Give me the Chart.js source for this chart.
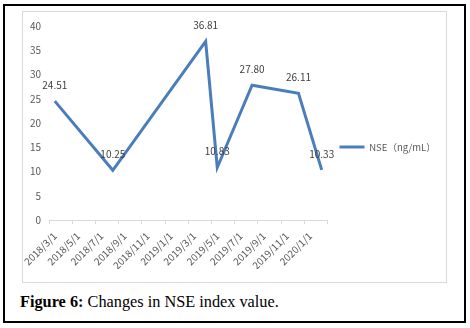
<!DOCTYPE html>
<html>
<head>
<meta charset="utf-8">
<script src="https://cdn.jsdelivr.net/npm/chart.js@4.4.1/dist/chart.umd.min.js"></script>
<style>
  html, body { margin: 0; padding: 0; background: #fff; }
  body { width: 470px; height: 328px; position: relative; overflow: hidden; }
  #outer { position: absolute; left: 3px; top: 4px; width: 463px; height: 319px; border: 2px solid #000; box-sizing: border-box; }
  #frame { position: absolute; left: 22px; top: 11px; width: 425px; height: 272px; border: 1px solid #d9d9d9; box-sizing: border-box; }
  #c { position: absolute; left: 23px; top: 12px; }
  #cap { position: absolute; left: 20px; top: 292px; font-family: "Liberation Serif", "Times New Roman", serif; font-size: 16.3px; color: #000; white-space: nowrap; }
  #cap b { font-weight: bold; }
</style>
</head>
<body>
<div id="outer"></div>
<div id="frame"></div>
<canvas id="c" width="423" height="270"></canvas>
<div id="cap"><b>Figure 6:</b> Changes in NSE index value.</div>
<script>
// Data
const dates = ['2018/3', '2018/8', '2019/4', '2019/5', '2019/8', '2019/12', '2020/2'];
const nseValues = [24.51, 10.25, 36.81, 10.83, 27.80, 26.11, 10.33];
const tickLabels = ['2018/3/1','2018/5/1','2018/7/1','2018/9/1','2018/11/1','2019/1/1','2019/3/1','2019/5/1','2019/7/1','2019/9/1','2019/11/1','2020/1/1'];
const seriesName = 'NSE（ng/mL）';
const startYear = 2018, startMonth = 3;

// month index (centered in month) from date
function monthPos(d) {
  const [y, m] = d.split('/').map(Number);
  return (y - startYear) * 12 + (m - startMonth) + 0.5;
}
const points = dates.map((d, i) => ({ x: monthPos(d), y: nseValues[i] }));

const FONT = '"Noto Sans CJK SC", "Noto Sans", sans-serif';
const GRAY = '#595959';

const valueLabels = {
  id: 'valueLabels',
  afterDatasetsDraw(chart) {
    const ctx = chart.ctx;
    const meta = chart.getDatasetMeta(0);
    ctx.save();
    ctx.font = '10px ' + FONT;
    ctx.fillStyle = '#404040';
    ctx.textAlign = 'center';
    ctx.textBaseline = 'middle';
    meta.data.forEach((el, i) => {
      ctx.fillText(nseValues[i].toFixed(2), el.x, el.y - 16);
    });
    ctx.restore();
  }
};

new Chart(document.getElementById('c'), {
  type: 'line',
  data: {
    datasets: [{
      label: seriesName,
      data: points,
      borderColor: '#4A7EBB',
      backgroundColor: '#4A7EBB',
      borderWidth: 3,
      pointRadius: 0,
      pointHoverRadius: 0,
      tension: 0,
      pointStyle: 'line'
    }]
  },
  options: {
    responsive: false,
    animation: false,
    devicePixelRatio: 1,
    layout: { padding: { top: 13, left: 0, right: 17, bottom: 13 } },
    plugins: {
      tooltip: { enabled: false },
      legend: {
        display: true,
        position: 'right',
        labels: {
          usePointStyle: true,
          pointStyleWidth: 25,
          boxHeight: 10,
          color: GRAY,
          font: { family: FONT, size: 9.5 },
          padding: 12
        }
      }
    },
    scales: {
      x: {
        type: 'linear',
        min: 0,
        max: 24,
        afterFit(s) { s.height = 49; s.paddingLeft = 0; s.paddingRight = 0; },
        grid: { display: true, drawOnChartArea: false, drawTicks: true, tickLength: 4, color: '#d9d9d9' },
        border: { display: true, color: '#d9d9d9', width: 1 },
        ticks: {
          stepSize: 2,
          autoSkip: false,
          maxRotation: 45,
          minRotation: 45,
          labelOffset: 6,
          padding: 6,
          color: GRAY,
          font: { family: FONT, size: 10 },
          callback: (v) => (v % 2 === 0 && tickLabels[v / 2] !== undefined) ? tickLabels[v / 2] : ''
        }
      },
      y: {
        min: 0,
        max: 40,
        afterFit(s) { s.width = 26; },
        grid: { display: false, drawTicks: false },
        border: { display: false },
        ticks: {
          stepSize: 5,
          padding: 8,
          color: GRAY,
          font: { family: FONT, size: 10 }
        }
      }
    }
  },
  plugins: [valueLabels]
});
</script>
</body>
</html>
